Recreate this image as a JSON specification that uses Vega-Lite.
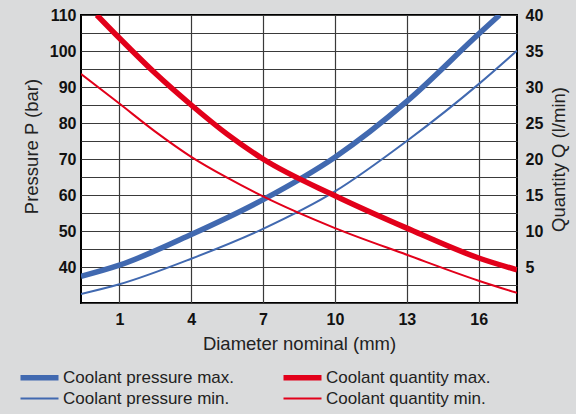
{
  "$schema": "https://vega.github.io/schema/vega-lite/v6.json",
  "width": 436,
  "height": 288,
  "autosize": {"type": "none"},
  "padding": {"left": 81, "top": 15, "right": 59, "bottom": 111},
  "background": "#dadbdc",
  "config": {
    "font": "Liberation Sans",
    "view": {"stroke": "#000000", "strokeWidth": 2, "fill": "#ffffff"},
    "axis": {
      "labelFont": "Liberation Sans",
      "labelFontWeight": "bold",
      "labelFontSize": 16,
      "labelColor": "#111111",
      "titleFont": "Liberation Sans",
      "titleFontWeight": "normal",
      "titleFontSize": 18.5,
      "titleColor": "#222222",
      "domain": false,
      "ticks": false,
      "gridColor": "#3a3a3a",
      "gridWidth": 1.2,
      "gridOpacity": 1
    },
    "legend": {
      "labelFont": "Liberation Sans",
      "labelFontSize": 17,
      "labelColor": "#222222"
    }
  },
  "data": {
    "values": [
      {"d": -0.6, "v": 37.4, "s": "Coolant pressure max."},
      {"d": 1, "v": 40.5, "s": "Coolant pressure max."},
      {"d": 4, "v": 49.0, "s": "Coolant pressure max."},
      {"d": 7, "v": 58.7, "s": "Coolant pressure max."},
      {"d": 10, "v": 70.5, "s": "Coolant pressure max."},
      {"d": 13, "v": 86.0, "s": "Coolant pressure max."},
      {"d": 16, "v": 104.7, "s": "Coolant pressure max."},
      {"d": 16.87, "v": 110, "s": "Coolant pressure max."},
      {"d": -0.6, "v": 32.5, "s": "Coolant pressure min."},
      {"d": 1, "v": 35.2, "s": "Coolant pressure min."},
      {"d": 4, "v": 42.3, "s": "Coolant pressure min."},
      {"d": 7, "v": 50.6, "s": "Coolant pressure min."},
      {"d": 10, "v": 61.0, "s": "Coolant pressure min."},
      {"d": 13, "v": 75.0, "s": "Coolant pressure min."},
      {"d": 16, "v": 90.8, "s": "Coolant pressure min."},
      {"d": 17.6, "v": 100.1, "s": "Coolant pressure min."},
      {"d": 0.06, "v": 40, "s": "Coolant quantity max."},
      {"d": 1, "v": 36.8, "s": "Coolant quantity max."},
      {"d": 2.5, "v": 31.9, "s": "Coolant quantity max."},
      {"d": 4, "v": 27.5, "s": "Coolant quantity max."},
      {"d": 5.5, "v": 23.45, "s": "Coolant quantity max."},
      {"d": 7, "v": 20.0, "s": "Coolant quantity max."},
      {"d": 10, "v": 14.9, "s": "Coolant quantity max."},
      {"d": 13, "v": 10.4, "s": "Coolant quantity max."},
      {"d": 16, "v": 6.25, "s": "Coolant quantity max."},
      {"d": 17.6, "v": 4.6, "s": "Coolant quantity max."},
      {"d": -0.6, "v": 31.8, "s": "Coolant quantity min."},
      {"d": 1, "v": 27.7, "s": "Coolant quantity min."},
      {"d": 2.5, "v": 23.8, "s": "Coolant quantity min."},
      {"d": 4, "v": 20.3, "s": "Coolant quantity min."},
      {"d": 5.5, "v": 17.4, "s": "Coolant quantity min."},
      {"d": 7, "v": 14.8, "s": "Coolant quantity min."},
      {"d": 10, "v": 10.4, "s": "Coolant quantity min."},
      {"d": 13, "v": 6.7, "s": "Coolant quantity min."},
      {"d": 16, "v": 3.1, "s": "Coolant quantity min."},
      {"d": 17.6, "v": 1.4, "s": "Coolant quantity min."}
    ]
  },
  "encoding": {
    "x": {
      "field": "d",
      "type": "quantitative",
      "scale": {"domain": [-0.6, 17.6], "nice": false, "zero": false},
      "axis": {
        "title": "Diameter nominal (mm)",
        "values": [1, 4, 7, 10, 13, 16],
        "labelPadding": 8,
        "titlePadding": 7
      }
    },
    "color": {
      "field": "s",
      "type": "nominal",
      "scale": {
        "domain": ["Coolant pressure max.", "Coolant pressure min.", "Coolant quantity max.", "Coolant quantity min."],
        "range": ["#4169b0", "#4169b0", "#e2001a", "#e2001a"]
      },
      "legend": {
        "title": null,
        "orient": "none",
        "legendX": -50,
        "legendY": 354,
        "columns": 2,
        "columnPadding": 37,
        "rowPadding": 0,
        "values": ["Coolant pressure max.", "Coolant pressure min.", "Coolant quantity max.", "Coolant quantity min."],
        "symbolType": "M-1.9,0H1.9",
        "symbolSize": 400,
        "labelOffset": 15,
        "labelLimit": 300,
        "padding": 0,
        "encode": {
          "symbols": {
            "update": {
              "strokeWidth": {"signal": "(datum.value == 'Coolant pressure max.' || datum.value == 'Coolant quantity max.') ? 5.5 : 2"}
            }
          }
        }
      }
    },
    "strokeWidth": {
      "condition": {"test": "datum.s == 'Coolant pressure max.' || datum.s == 'Coolant quantity max.'", "value": 5.5},
      "value": 2
    }
  },
  "layer": [
    {
      "transform": [{"filter": "datum.s == 'Coolant pressure max.' || datum.s == 'Coolant pressure min.'"}],
      "mark": {"type": "line", "interpolate": "monotone", "clip": true},
      "encoding": {
        "y": {
          "field": "v",
          "type": "quantitative",
          "scale": {"domain": [30, 110], "nice": false, "zero": false},
          "axis": {
            "title": "Pressure P (bar)",
            "orient": "left",
            "values": [30, 35, 40, 45, 50, 55, 60, 65, 70, 75, 80, 85, 90, 95, 100, 105, 110],
            "labelExpr": "datum.value % 10 == 0 && datum.value >= 40 ? datum.label : ''",
            "labelPadding": 5,
            "titlePadding": 8,
            "titleY": 131
          }
        }
      }
    },
    {
      "transform": [{"filter": "datum.s == 'Coolant quantity max.' || datum.s == 'Coolant quantity min.'"}],
      "mark": {"type": "line", "interpolate": "monotone", "clip": true},
      "encoding": {
        "y": {
          "field": "v",
          "type": "quantitative",
          "scale": {"domain": [0, 40], "nice": false, "zero": false},
          "axis": {
            "title": "Quantity Q (l/min)",
            "orient": "right",
            "titleAngle": 270,
            "titleBaseline": "top",
            "values": [5, 10, 15, 20, 25, 30, 35, 40],
            "grid": false,
            "labelPadding": 8,
            "titlePadding": 7
          }
        }
      }
    }
  ],
  "resolve": {"scale": {"y": "independent"}}
}
